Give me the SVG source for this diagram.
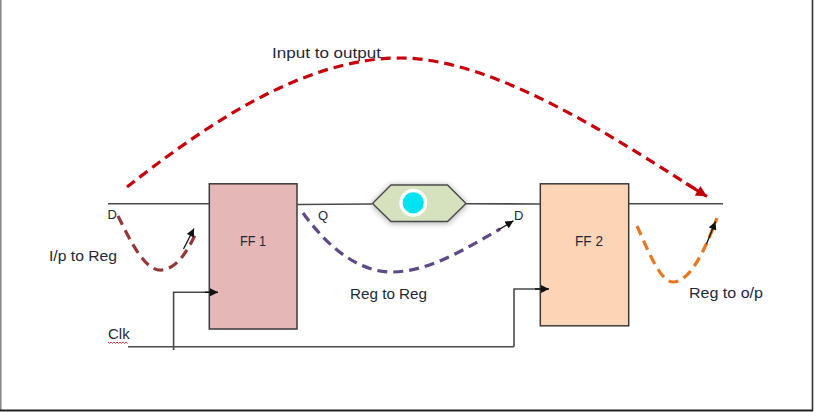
<svg xmlns="http://www.w3.org/2000/svg" width="814" height="412" viewBox="0 0 814 412">
  <style>
    .wire { fill: none; stroke: #4a4a4a; stroke-width: 1.6; }
    .box { stroke: #3a3a3a; stroke-width: 1.5; }
    .lbl { font-family: "Liberation Sans", Arial, sans-serif; font-size: 15px; fill: #1f2838; }
    .pin { font-family: "Liberation Sans", Arial, sans-serif; font-size: 13px; fill: #1f2838; }
    .path-dash { fill: none; stroke-width: 3.2; stroke-dasharray: 10 6; }
    .tick { fill: none; stroke: #111; stroke-width: 1.3; }
  </style>
  <defs>
    <marker id="clkArrow" viewBox="0 0 10 10" refX="10" refY="5" markerWidth="9" markerHeight="8" markerUnits="userSpaceOnUse" orient="auto">
      <path d="M0,0 L10,5 L0,10 Z" fill="#111"/>
    </marker>
    <marker id="smallArrow" viewBox="0 0 10 10" refX="10" refY="5" markerWidth="9" markerHeight="8" markerUnits="userSpaceOnUse" orient="auto">
      <path d="M0,0 L10,5 L0,10 Z" fill="#111"/>
    </marker>
    <marker id="redArrow" viewBox="0 0 10 10" refX="10" refY="5" markerWidth="14" markerHeight="11" markerUnits="userSpaceOnUse" orient="auto">
      <path d="M0,0 L10,5 L0,10 Z" fill="#c00000"/>
    </marker>
    <filter id="soft" x="-30%" y="-60%" width="160%" height="220%">
      <feDropShadow dx="0" dy="1" stdDeviation="3" flood-color="#000" flood-opacity="0.35"/>
    </filter>
  </defs>

  <rect x="0" y="0" width="814" height="412" fill="#ffffff"/>
  <!-- frame -->
  <line x1="0.8" y1="0" x2="0.8" y2="411" stroke="#8a8a8a" stroke-width="1.6"/>
  <line x1="812.5" y1="0" x2="812.5" y2="411" stroke="#333" stroke-width="1.6"/>
  <line x1="0" y1="410.5" x2="813" y2="410.5" stroke="#222" stroke-width="2"/>

  <g id="ff1">
    <rect class="box" x="209.3" y="183.8" width="87.7" height="145.2" fill="#e5b7b7"/>
    <text class="lbl" x="240" y="246" font-size="14" textLength="26" lengthAdjust="spacingAndGlyphs">FF 1</text>
  </g>

  <g id="ff2">
    <rect class="box" x="540.3" y="183.8" width="88.4" height="142" fill="#fbd5b5"/>
    <text class="lbl" x="575" y="246" font-size="14" textLength="28" lengthAdjust="spacingAndGlyphs">FF 2</text>
  </g>

  <g id="buffer">
    <polygon points="372.5,203.5 391,185 447.5,185 466,203.5 447.5,221.5 391,221.5" fill="#d6e1bd" stroke="#4a4a4a" stroke-width="1.4" filter="url(#soft)"/>
    <circle cx="413.3" cy="202.8" r="12.3" fill="#00e3f0" stroke="#ffffff" stroke-width="3.4"/>
  </g>

  <g id="connectors">
    <!-- data wires -->
    <line class="wire" x1="108" y1="203.8" x2="209" y2="203.8"/>
    <line class="wire" x1="297" y1="204.5" x2="372" y2="204"/>
    <line class="wire" x1="466" y1="203.8" x2="540" y2="204"/>
    <line class="wire" x1="629" y1="203.8" x2="723" y2="203.8"/>
    <!-- clock -->
    <line class="wire" x1="128" y1="346.8" x2="514" y2="346.8"/>
    <polyline class="wire" points="514,346.8 514,289 540,289" />
    <line x1="535" y1="289" x2="549" y2="289" stroke="#111" stroke-width="1.5" marker-end="url(#clkArrow)"/>
    <polyline class="wire" points="173.6,350 173.6,292.3 209,292.3"/>
    <line x1="205" y1="292.3" x2="218" y2="292.3" stroke="#111" stroke-width="1.5" marker-end="url(#clkArrow)"/>

    <!-- input to output -->
    <path class="path-dash" stroke="#c8000a" stroke-width="3.5" stroke-dasharray="12 7" d="M127,187 C200,130 300,58 400,58 C500,58 632,150 700,192"/>
    <line x1="686" y1="183.5" x2="707" y2="196.5" stroke="#c8000a" stroke-width="3.2" marker-end="url(#redArrow)"/>

    <!-- I/p to Reg -->
    <path class="path-dash" stroke="#94383a" d="M118,216 C130,240 145,272 162,270 C178,268 188,250 197,231"/>
    <line class="tick" x1="183.5" y1="249" x2="194" y2="228.5" marker-end="url(#smallArrow)"/>

    <!-- Reg to Reg -->
    <path class="path-dash" stroke="#5d4a86" d="M303,213 C330,250 360,272 392,272 C430,272 470,246 500,229"/>
    <line class="tick" x1="499" y1="229.5" x2="513.5" y2="220.8" marker-end="url(#smallArrow)"/>

    <!-- Reg to o/p -->
    <path class="path-dash" stroke="#e8761e" d="M637,226 C648,250 660,282 673,282 C690,282 705,250 717,218"/>
    <line class="tick" x1="706.5" y1="244" x2="715.5" y2="221.5" marker-end="url(#smallArrow)"/>
  </g>

  <g id="labels">
    <text class="lbl" x="272" y="58" textLength="109" lengthAdjust="spacingAndGlyphs">Input to output</text>
    <text class="pin" x="107.5" y="219">D</text>
    <text class="lbl" x="49" y="261" textLength="68" lengthAdjust="spacingAndGlyphs">I/p to Reg</text>
    <text class="pin" x="318" y="220">Q</text>
    <text class="pin" x="514" y="220">D</text>
    <text class="lbl" x="350" y="299" textLength="77" lengthAdjust="spacingAndGlyphs">Reg to Reg</text>
    <text class="lbl" x="689" y="298" textLength="74" lengthAdjust="spacingAndGlyphs">Reg to o/p</text>
    <text class="lbl" x="108" y="339">Clk</text>
    <path d="M108,342 l1.5,1.5 l1.5,-1.5 l1.5,1.5 l1.5,-1.5 l1.5,1.5 l1.5,-1.5 l1.5,1.5 l1.5,-1.5 l1.5,1.5 l1.5,-1.5 l1.5,1.5 l1.5,-1.5 l1.5,1.5" fill="none" stroke="#e03030" stroke-width="0.9"/>
  </g>
</svg>
